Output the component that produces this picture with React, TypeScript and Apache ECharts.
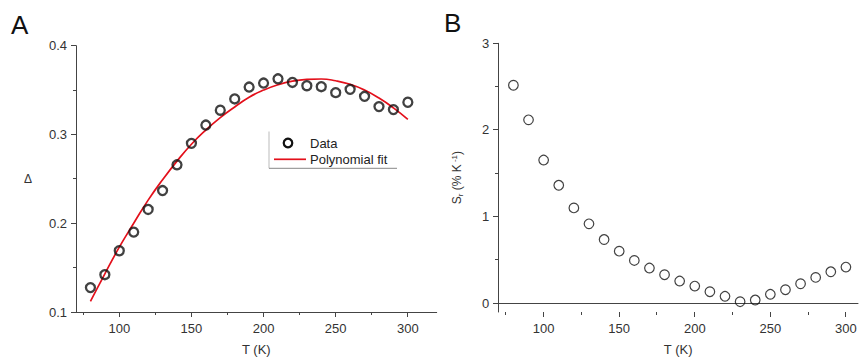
import React, { useEffect, useRef } from "react";
import * as echarts from "echarts";

const temps = [80, 90, 100, 110, 120, 130, 140, 150, 160, 170, 180, 190, 200, 210, 220, 230, 240, 250, 260, 270, 280, 290, 300];
const deltaData = [0.1275, 0.142, 0.169, 0.19, 0.2155, 0.2368, 0.2658, 0.29, 0.3106, 0.3273, 0.34, 0.3534, 0.3579, 0.3627, 0.3586, 0.3549, 0.3538, 0.3471, 0.3508, 0.343, 0.3314, 0.328, 0.3363];
const fitData = [0.112, 0.143, 0.173, 0.2, 0.226, 0.249, 0.27, 0.289, 0.305, 0.319, 0.331, 0.342, 0.35, 0.356, 0.36, 0.362, 0.3625, 0.3605, 0.3565, 0.35, 0.341, 0.33, 0.317];
const srData = [2.516, 2.117, 1.653, 1.362, 1.101, 0.917, 0.736, 0.602, 0.495, 0.407, 0.33, 0.257, 0.199, 0.134, 0.081, 0.019, 0.038, 0.104, 0.157, 0.226, 0.299, 0.364, 0.418];

const xRangeA = [70, 320];
const yRangeA = [0.1, 0.4];
const xRangeB = [70, 308];
const yRangeB = [-0.1, 3];
const xMajor = [100, 150, 200, 250, 300];
const xMinor = [75, 125, 175, 225, 275];
const yMajorA = [0.1, 0.2, 0.3, 0.4];
const yMinorA = [0.15, 0.25, 0.35];
const yMajorB = [0, 1, 2, 3];
const yMinorB = [0.5, 1.5, 2.5];

const FONT = "Liberation Sans, Arial, sans-serif";
const AXIS_COLOR = "#444";
const LABEL_COLOR = "#333";
const TICK_COLOR = "#444";

export default function App() {
  const ref = useRef<HTMLDivElement>(null);
  useEffect(() => {
    if (!ref.current) return;
    const chart = echarts.init(ref.current, null, { renderer: "svg" });

    const labelStyle = { fontFamily: FONT, fontSize: 13, color: LABEL_COLOR };
    const nameStyle = { fontFamily: FONT, fontSize: 13, color: LABEL_COLOR };

    const baseGraphics: any[] = [
      { type: "text", left: 11, top: 12, style: { text: "A", fontFamily: FONT, fontSize: 26, fill: "#111" } },
      { type: "text", left: 444, top: 10, style: { text: "B", fontFamily: FONT, fontSize: 26, fill: "#111" } },
      { type: "line", shape: { x1: 269, y1: 131.5, x2: 269, y2: 168.3 }, style: { stroke: "#bbb", lineWidth: 1 } },
      { type: "line", shape: { x1: 269, y1: 168.3, x2: 397, y2: 168.3 }, style: { stroke: "#888", lineWidth: 1 } },
      { type: "circle", shape: { cx: 288, cy: 143, r: 4.3 }, style: { fill: "none", stroke: "#111", lineWidth: 2.2 } },
      { type: "text", x: 310, y: 143, style: { text: "Data", fontFamily: FONT, fontSize: 13, fill: "#222", verticalAlign: "middle" } },
      { type: "line", shape: { x1: 274, y1: 159.3, x2: 306, y2: 159.3 }, style: { stroke: "#e3101b", lineWidth: 1.7 } },
      { type: "text", x: 310, y: 159.5, style: { text: "Polynomial fit", fontFamily: FONT, fontSize: 13, fill: "#222", verticalAlign: "middle" } },
    ];

    const option: any = {
      animation: false,
      backgroundColor: "#fff",
      grid: [
        { left: 76, top: 45.7, width: 360.7, height: 268.3 },
        { left: 498.3, top: 43.3, width: 359.7, height: 269.4 },
      ],
      xAxis: [
        {
          type: "value", gridIndex: 0, position: "bottom", min: xRangeA[0], max: xRangeA[1],
          name: "T (K)", nameLocation: "middle", nameGap: 31, nameTextStyle: nameStyle,
          axisLine: { show: true, lineStyle: { color: AXIS_COLOR, width: 1 } },
          axisTick: { show: false },
          axisLabel: { show: true, customValues: xMajor, margin: 10, ...labelStyle },
          splitLine: { show: false },
        },
        {
          type: "value", gridIndex: 1, position: "bottom", min: xRangeB[0], max: xRangeB[1],
          name: "T (K)", nameLocation: "middle", nameGap: 31, nameTextStyle: nameStyle,
          axisLine: { show: true, lineStyle: { color: AXIS_COLOR, width: 1 } },
          axisTick: { show: false },
          axisLabel: { show: true, customValues: xMajor, margin: 10, ...labelStyle },
          splitLine: { show: false },
        },
      ],
      yAxis: [
        {
          type: "value", gridIndex: 0, position: "left", min: yRangeA[0], max: yRangeA[1], interval: 0.1,
          name: "Δ", nameLocation: "middle", nameGap: 44, nameRotate: 0,
          nameTextStyle: { fontFamily: FONT, fontSize: 12, color: LABEL_COLOR },
          axisLine: { show: true, lineStyle: { color: AXIS_COLOR, width: 1 } },
          axisTick: { show: false },
          axisLabel: { show: true, margin: 9, ...labelStyle, formatter: (v: number) => v.toFixed(1) },
          splitLine: { show: false },
        },
        {
          type: "value", gridIndex: 1, position: "left", min: yRangeB[0], max: yRangeB[1],
          name: "S{sub|r} (% K{sup| -1})", nameLocation: "middle", nameGap: 34, nameRotate: 90,
          nameTextStyle: {
            fontFamily: FONT, fontSize: 12, color: LABEL_COLOR,
            rich: {
              sub: { fontSize: 8, fontFamily: FONT, color: LABEL_COLOR, verticalAlign: "bottom", padding: [6, 0, 0, 0] },
              sup: { fontSize: 8, fontFamily: FONT, color: LABEL_COLOR, verticalAlign: "top", padding: [0, 0, 6, 0] },
            },
          },
          axisLine: { show: true, lineStyle: { color: AXIS_COLOR, width: 1 } },
          axisTick: { show: false },
          axisLabel: { show: true, customValues: yMajorB, margin: 9, ...labelStyle },
          splitLine: { show: false },
        },
      ],
      series: [
        {
          type: "line", xAxisIndex: 0, yAxisIndex: 0,
          data: temps.map((t, i) => [t, fitData[i]]),
          smooth: true, showSymbol: false,
          lineStyle: { color: "#e3101b", width: 1.7 }, z: 2,
        },
        {
          type: "scatter", xAxisIndex: 0, yAxisIndex: 0,
          data: temps.map((t, i) => [t, deltaData[i]]),
          symbol: "circle", symbolSize: 9,
          itemStyle: { color: "rgba(255,255,255,0)", borderColor: "#111", borderWidth: 2.3 }, z: 3,
        },
        {
          type: "scatter", xAxisIndex: 1, yAxisIndex: 1,
          data: temps.map((t, i) => [t, srData[i]]),
          symbol: "circle", symbolSize: 9.6,
          itemStyle: { color: "rgba(255,255,255,0)", borderColor: "#111", borderWidth: 1.2 }, z: 3,
        },
      ],
      graphic: baseGraphics,
    };
    chart.setOption(option);

    // tick marks, positioned through the axes' own scales
    const snap = (v: number) => Math.round(v - 0.5) + 0.5;
    const ticks: any[] = [];
    const addXTicks = (gridIndex: number, yMin: number, values: number[], len: number) => {
      values.forEach((t) => {
        const p = chart.convertToPixel({ xAxisIndex: gridIndex, yAxisIndex: gridIndex }, [t, yMin]) as number[];
        const x = snap(p[0]);
        const y = Math.round(p[1]);
        ticks.push({ type: "line", silent: true, shape: { x1: x, y1: y, x2: x, y2: y + len }, style: { stroke: TICK_COLOR, lineWidth: 1 } });
      });
    };
    const addYTicks = (gridIndex: number, xMin: number, values: number[], len: number) => {
      values.forEach((v) => {
        const p = chart.convertToPixel({ xAxisIndex: gridIndex, yAxisIndex: gridIndex }, [xMin, v]) as number[];
        const x = Math.round(p[0]);
        const y = snap(p[1]);
        ticks.push({ type: "line", silent: true, shape: { x1: x, y1: y, x2: x - len, y2: y }, style: { stroke: TICK_COLOR, lineWidth: 1 } });
      });
    };
    addXTicks(0, yRangeA[0], xMajor, 5);
    addXTicks(0, yRangeA[0], xMinor, 3);
    addYTicks(0, xRangeA[0], yMajorA, 5);
    addYTicks(0, xRangeA[0], yMinorA, 3);
    addXTicks(1, yRangeB[0], xMajor, 5);
    addXTicks(1, yRangeB[0], xMinor, 3);
    addYTicks(1, xRangeB[0], yMajorB, 5);
    addYTicks(1, xRangeB[0], yMinorB, 3);

    chart.setOption({ graphic: [...baseGraphics, ...ticks] });
    return () => chart.dispose();
  }, []);
  return <div ref={ref} style={{ width: 860, height: 361, position: "absolute", left: 0, top: 0 }} />;
}
